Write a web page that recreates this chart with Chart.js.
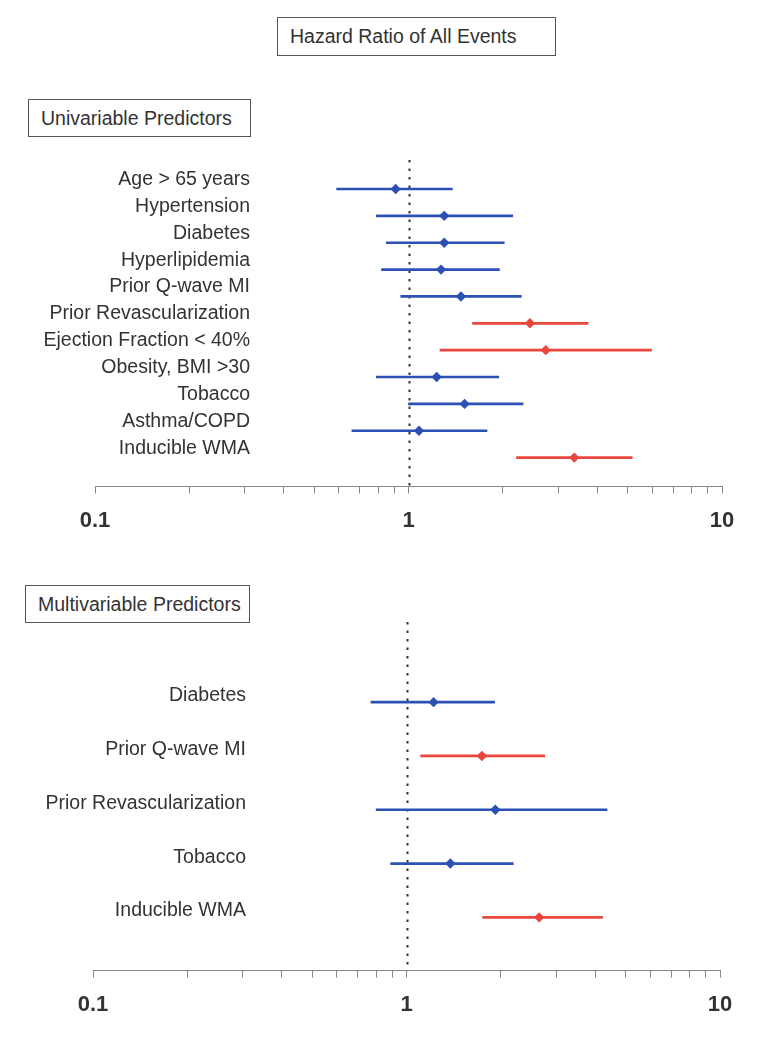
<!DOCTYPE html>
<html>
<head>
<meta charset="utf-8">
<script src="https://cdn.jsdelivr.net/npm/chart.js@4.4.1/dist/chart.umd.min.js"></script>
<style>
  body { margin: 0; background: #fff; }
  #page { position: relative; width: 758px; height: 1040px; font-family: "Liberation Sans", Arial, sans-serif; color: #333; }
  .box { position: absolute; box-sizing: border-box; border: 1.5px solid #555; font-size: 19.5px; line-height: 36px; padding-left: 12px; white-space: nowrap; }
  canvas { position: absolute; left: 0; }
</style>
</head>
<body>
<div id="page">
  <div class="box" style="left:277px; top:17px; width:279px; height:39px;">Hazard Ratio of All Events</div>
  <div class="box" style="left:28px; top:99px; width:223px; height:38px;">Univariable Predictors</div>
  <div class="box" style="left:25px; top:585px; width:225px; height:38px;">Multivariable Predictors</div>
  <canvas id="chartUni" width="758" height="400" style="top:150px"></canvas>
  <canvas id="chartMulti" width="758" height="490" style="top:550px"></canvas>
</div>
<script>
// univariable predictors
const uniLabels = ["Age > 65 years", "Hypertension", "Diabetes", "Hyperlipidemia", "Prior Q-wave MI",
  "Prior Revascularization", "Ejection Fraction < 40%", "Obesity, BMI >30", "Tobacco", "Asthma/COPD", "Inducible WMA"];
const uniHR   = [0.91, 1.30, 1.30, 1.27, 1.47, 2.44, 2.74, 1.23, 1.51, 1.08, 3.38];
const uniLow  = [0.59, 0.79, 0.85, 0.82, 0.945, 1.60, 1.26, 0.79, 1.00, 0.66, 2.21];
const uniHigh = [1.38, 2.15, 2.02, 1.95, 2.29, 3.74, 5.96, 1.94, 2.32, 1.78, 5.17];

// multivariable predictors
const multiLabels = ["Diabetes", "Prior Q-wave MI", "Prior Revascularization", "Tobacco", "Inducible WMA"];
const multiHR   = [1.22, 1.74, 1.92, 1.38, 2.65];
const multiLow  = [0.77, 1.11, 0.80, 0.89, 1.75];
const multiHigh = [1.91, 2.76, 4.36, 2.19, 4.22];

// axis ticks
const xTicks = [0.1, 0.2, 0.3, 0.4, 0.5, 0.6, 0.7, 0.8, 0.9, 1, 2, 3, 4, 5, 6, 7, 8, 9, 10];
const xTickLabels = [0.1, 1, 10];

const BLUE = "#2c50b4";
const RED = "#e9463d";
const FONT = '"Liberation Sans", Arial, sans-serif';

const refLine = {
  id: "refLine",
  beforeDatasetsDraw(chart) {
    const { ctx, chartArea } = chart;
    const x = Math.round(chart.scales.x.getPixelForValue(1)) + 0.5;
    ctx.save();
    ctx.strokeStyle = "#333";
    ctx.lineWidth = 2;
    ctx.setLineDash([2.5, 6]);
    ctx.beginPath();
    ctx.moveTo(x, chartArea.top);
    ctx.lineTo(x, chartArea.bottom);
    ctx.stroke();
    ctx.restore();
  }
};

const rowLabels = {
  id: "rowLabels",
  afterDraw(chart, args, opts) {
    const { ctx } = chart;
    const y = chart.scales.y;
    ctx.save();
    ctx.font = "19.5px " + FONT;
    ctx.fillStyle = "#333";
    ctx.textAlign = "right";
    ctx.textBaseline = "alphabetic";
    opts.labels.forEach((l, i) => {
      ctx.fillText(l, opts.right, y.getPixelForValue(i) + opts.dy);
    });
    ctx.restore();
  }
};

function forest(id, labels, hr, low, high, cfg) {
  const colors = low.map(v => v > 1 ? RED : BLUE);
  new Chart(document.getElementById(id), {
    type: "bar",
    data: {
      datasets: [
        {
          type: "scatter",
          data: hr.map((v, i) => ({ x: v, y: i })),
          pointStyle: "rectRot",
          pointRadius: 5.2,
          pointBorderWidth: 0,
          pointBackgroundColor: colors,
          order: 0
        },
        {
          type: "bar",
          data: low.map((v, i) => ({ x: [v, high[i]], y: i })),
          backgroundColor: colors,
          barThickness: 2,
          borderWidth: 0,
          order: 1
        }
      ]
    },
    options: {
      indexAxis: "y",
      responsive: false,
      animation: false,
      events: [],
      layout: { padding: cfg.padding },
      plugins: {
        legend: { display: false },
        tooltip: { enabled: false },
        rowLabels: { labels: labels, right: cfg.labelRight, dy: cfg.labelDy }
      },
      scales: {
        x: {
          type: "logarithmic",
          min: 0.1,
          max: 10,
          afterBuildTicks: axis => { axis.ticks = xTicks.map(v => ({ value: v })); },
          border: { display: true, color: "#888", width: 1 },
          grid: { drawOnChartArea: false, drawTicks: true, tickLength: 7, tickColor: "#888" },
          ticks: {
            autoSkip: false,
            maxRotation: 0,
            padding: 14,
            color: "#333",
            font: { family: FONT, size: 22, weight: "bold" },
            callback: v => xTickLabels.includes(v) ? String(v) : ""
          }
        },
        y: {
          type: "linear",
          reverse: true,
          display: false,
          offset: false,
          min: cfg.yMin,
          max: cfg.yMax
        }
      }
    },
    plugins: [refLine, rowLabels]
  });
}

forest("chartUni", uniLabels, uniHR, uniLow, uniHigh, {
  padding: { left: 95, right: 36, top: 10, bottom: 2 },
  yMin: -1.08, yMax: 11.08,
  labelRight: 250, labelDy: -4
});

forest("chartMulti", multiLabels, multiHR, multiLow, multiHigh, {
  padding: { left: 93, right: 38, top: 72, bottom: 8 },
  yMin: -1.49, yMax: 4.99,
  labelRight: 246, labelDy: -1
});
</script>
</body>
</html>
